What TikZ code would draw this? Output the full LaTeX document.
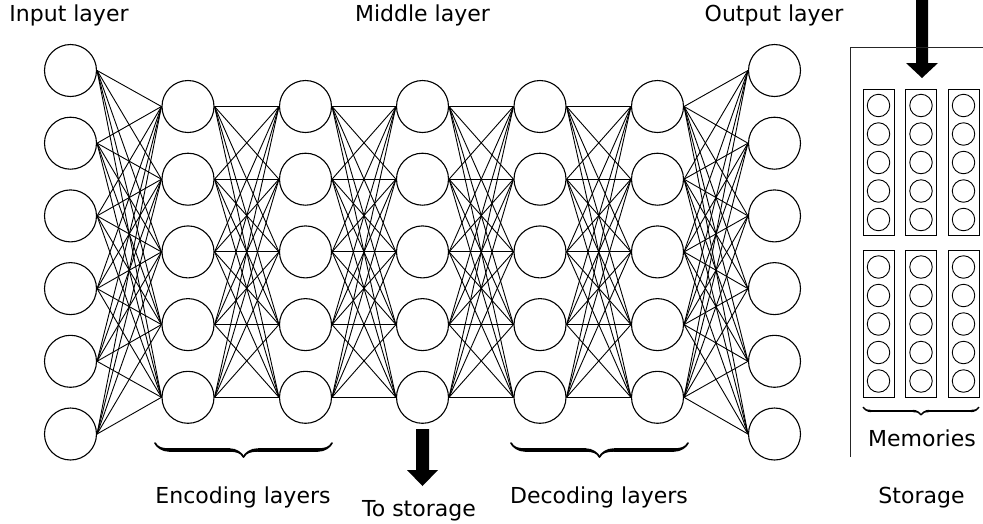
\documentclass[tikz,border=0pt]{standalone}
\usepackage{fontspec}
\setmainfont{DejaVu Sans}
\usetikzlibrary{decorations.pathreplacing,calligraphy}
\begin{document}
\begin{tikzpicture}[x=1pt,y=-1pt,
  neuron/.style={circle,draw,line width=1.1pt,minimum size=52pt,inner sep=0pt},
  mem/.style={circle,draw,line width=0.9pt,minimum size=22.5pt,inner sep=0pt},
  membox/.style={draw,line width=0.9pt,minimum width=31pt,minimum height=146.5pt,inner sep=0pt},
  link/.style={line width=0.9pt},
  lbl/.style={font=\fontsize{22}{26}\selectfont,anchor=base,inner sep=0pt},
  bigarrow/.style={fill=black},
  cbrace/.style={decorate,decoration={calligraphic brace,amplitude=14pt},line width=3.5pt}]
\useasboundingbox (0,0) rectangle (983,523);

% layers
\foreach \k in {0,...,5} \node[neuron] (a\k) at (70.5,{70.5+72.7*\k}) {};
\foreach \l/\x in {1/188,2/305.5,3/422.5,4/540,5/657.5}
  \foreach \k in {0,...,4} \node[neuron] (h\l-\k) at (\x,{106.5+72.7*\k}) {};
\foreach \k in {0,...,5} \node[neuron] (o\k) at (774.5,{70.5+72.7*\k}) {};

% connections
\foreach \i in {0,...,5} \foreach \j in {0,...,4} \draw[link] (a\i.east) -- (h1-\j.west);
\foreach \l [evaluate=\l as \m using int(\l+1)] in {1,...,4}
  \foreach \i in {0,...,4} \foreach \j in {0,...,4} \draw[link] (h\l-\i.east) -- (h\m-\j.west);
\foreach \i in {0,...,4} \foreach \j in {0,...,5} \draw[link] (h5-\i.east) -- (o\j.west);

% labels
\node[lbl] (tin) at (69,21) {Input layer};
\node[lbl] (tmid) at (422.5,21) {Middle layer};
\node[lbl] (tout) at (774,21) {Output layer};
\node[lbl] (tenc) at (243,503) {Encoding layers};
\node[lbl] (tto) at (419,516) {To storage};
\node[lbl] (tdec) at (599,503) {Decoding layers};
\node[lbl] (tsto) at (921.5,503) {Storage};
\node[lbl] (tmem) at (922,446) {Memories};

% braces
\coordinate (e1) at (155,443); \coordinate (e2) at (332,443);
\draw[cbrace] (e2) -- (e1);
\coordinate (d1) at (511,443); \coordinate (d2) at (688,443);
\draw[cbrace] (d2) -- (d1);
\coordinate (m1) at (863,407); \coordinate (m2) at (979,407);
\draw[decorate,decoration={calligraphic brace,amplitude=8pt},line width=2.4pt] (m2) -- (m1);

% block arrows
\fill[bigarrow] (416,429) -- (429,429) -- (429,470) -- (438,470) -- (422.5,486) -- (407,470) -- (416,470) -- cycle;
\fill[bigarrow] (916,-1) -- (928,-1) -- (928,63) -- (938,63) -- (922,78) -- (906,63) -- (916,63) -- cycle;

% storage
\draw[line width=1pt,black!85] (850,457) -- (850,47) -- (984,47);
\foreach \c/\x in {0/878.5,1/921,2/963.5} {
  \node[membox] (mb\c) at (\x,162.5) {};
  \node[membox] (mc\c) at (\x,324) {};
  \foreach \k in {0,...,4} {
    \node[mem] (mu\c-\k) at (\x,{162.5+28.5*(\k-2)}) {};
    \node[mem] (md\c-\k) at (\x,{324+28.5*(\k-2)}) {};
  }
}
\end{tikzpicture}
\end{document}
